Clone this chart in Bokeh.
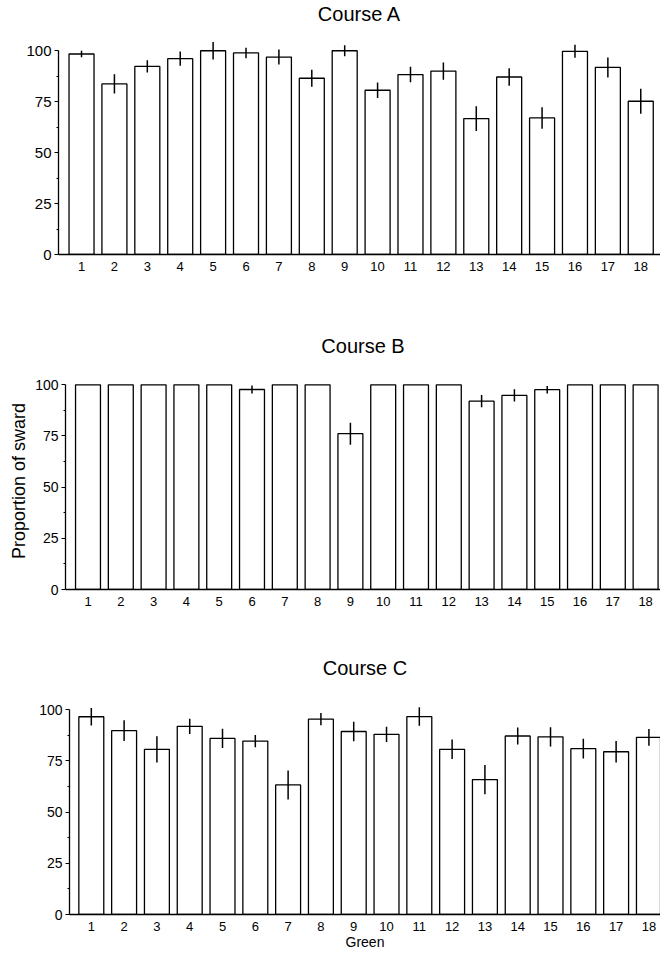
from bokeh.plotting import figure
from bokeh.models import ColumnDataSource, FixedTicker, Range1d
from bokeh.embed import file_html
from bokeh.resources import INLINE

greens = list(range(1, 19))

course_a = [98.4, 83.7, 92.3, 96.1, 100.0, 98.9, 96.9, 86.5, 100.0,
            80.6, 88.3, 90.0, 66.7, 87.1, 67.0, 99.7, 91.8, 75.2]
course_a_err = [1.6, 4.7, 3.0, 3.5, 4.3, 2.6, 3.7, 4.2, 2.7,
                3.8, 3.8, 4.2, 6.1, 4.3, 5.3, 3.2, 4.9, 6.1]

course_b = [100.0, 100.0, 100.0, 100.0, 100.0, 97.7, 100.0, 100.0, 76.1,
            100.0, 100.0, 100.0, 92.0, 94.8, 97.6, 100.0, 100.0, 100.0]
course_b_err = [0, 0, 0, 0, 0, 1.9, 0, 0, 5.4,
                0, 0, 0, 3.0, 3.0, 1.8, 0, 0, 0]

course_c = [96.6, 89.8, 80.7, 91.9, 86.0, 84.7, 63.3, 95.4, 89.4,
            88.0, 96.7, 80.7, 65.9, 87.2, 86.8, 81.0, 79.5, 86.5]
course_c_err = [4.3, 5.1, 6.4, 3.7, 4.7, 3.0, 7.1, 3.0, 4.8,
                3.7, 4.5, 4.8, 7.1, 4.1, 4.7, 4.8, 5.2, 4.1]

y_ticks = [0, 25, 50, 75, 100]
y_minor = [12.5, 37.5, 62.5, 87.5]

FONT = "Liberation Sans"


def style_title(p, text, standoff):
    p.title.text = text
    p.title.align = "center"
    p.title.text_font = FONT
    p.title.text_font_size = "20px"
    p.title.text_font_style = "normal"
    p.title.text_color = "black"
    p.title.standoff = standoff


def panel(title, vals, errs, width, height, left, top, bottom, xr, title_standoff,
          ylab=None, xlab=None, ytick_size="14px"):
    p = figure(width=width, height=height, output_backend="svg", toolbar_location=None,
               x_range=Range1d(*xr), y_range=Range1d(0, 106),
               min_border_left=left, min_border_top=top, min_border_bottom=bottom,
               min_border_right=0)
    if title:
        style_title(p, title, title_standoff)
    p.outline_line_color = None
    p.background_fill_color = "white"
    p.border_fill_color = "white"
    p.grid.visible = False

    src = ColumnDataSource(dict(x=greens, top=vals,
                                lo=[v - e for v, e in zip(vals, errs)],
                                hi=[v + e for v, e in zip(vals, errs)]))
    p.vbar(x="x", top="top", bottom=0, width=0.76, source=src,
           fill_color="white", line_color="black", line_width=1.3)
    p.segment(x0="x", x1="x", y0="lo", y1="hi", source=src,
              line_color="black", line_width=1.5)

    xa = p.xaxis[0]
    xa.ticker = FixedTicker(ticks=greens)
    xa.major_tick_in = 0
    xa.major_tick_out = 0
    xa.major_tick_line_color = None
    xa.minor_tick_line_color = None
    xa.axis_line_color = "black"
    xa.axis_line_width = 1.3
    xa.major_label_text_font = FONT
    xa.major_label_text_font_size = "13px"
    xa.major_label_text_color = "black"
    xa.major_label_standoff = 7
    if xlab:
        xa.axis_label = xlab
        xa.axis_label_text_font = FONT
        xa.axis_label_text_font_size = "14px"
        xa.axis_label_text_font_style = "normal"
        xa.axis_label_text_color = "black"
        xa.axis_label_standoff = 0

    ya = p.yaxis[0]
    ya.ticker = FixedTicker(ticks=y_ticks, minor_ticks=y_minor)
    ya.bounds = (0, 100)
    ya.axis_line_color = "black"
    ya.axis_line_width = 1.3
    ya.major_tick_in = 0
    ya.major_tick_out = 4
    ya.minor_tick_in = 0
    ya.minor_tick_out = 2
    ya.major_tick_line_color = "black"
    ya.minor_tick_line_color = "black"
    ya.major_label_text_font = FONT
    ya.major_label_text_font_size = ytick_size
    ya.major_label_text_color = "black"
    ya.major_label_standoff = 3
    if ylab:
        ya.axis_label = ylab
        ya.axis_label_text_font = FONT
        ya.axis_label_text_font_size = "18px"
        ya.axis_label_text_font_style = "normal"
        ya.axis_label_text_color = "black"
        ya.axis_label_standoff = 3
    return p


# header strip carrying the "Course A" title (keeps panel A's frame where it belongs)
head = figure(width=660, height=38, output_backend="svg", toolbar_location=None,
              x_axis_location=None, y_axis_location=None,
              min_border_left=58, min_border_right=0, min_border_top=0, min_border_bottom=0)
style_title(head, "Course A", 0)
head.outline_line_color = None
head.grid.visible = False
head.border_fill_color = "white"
head.background_fill_color = "white"

pa = panel(None, course_a, course_a_err, 660, 262, 58, 0, 46, (0.3, 18.6), 0,
           ytick_size="15px")
pb = panel("Course B", course_b, course_b_err, 660, 320, 65, 72, 31, (0.314, 18.454), 31,
           ylab="Proportion of sward")
pc = panel("Course C", course_c, course_c_err, 660, 334, 69, 77, 40, (0.335, 18.353), 37,
           xlab="Green")

open("out.html", "w").write(file_html([head, pa, pb, pc], INLINE))
